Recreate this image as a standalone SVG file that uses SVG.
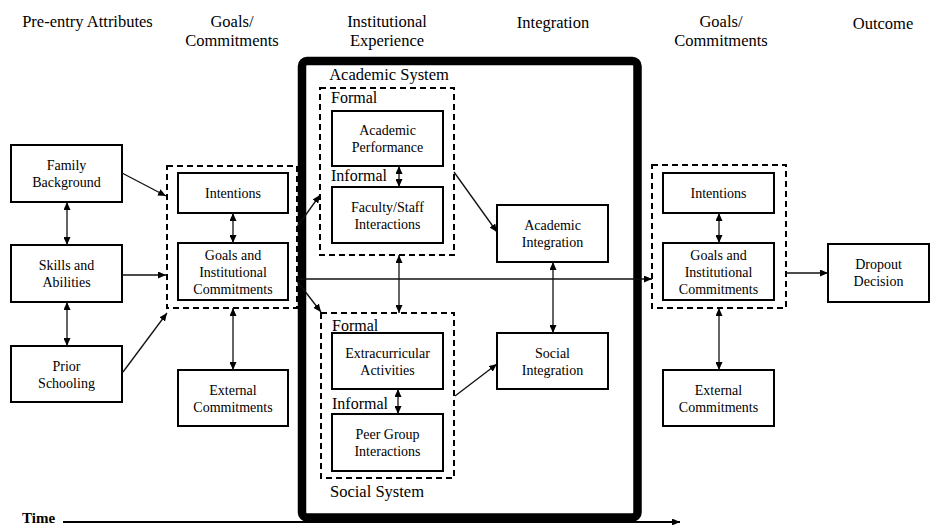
<svg xmlns="http://www.w3.org/2000/svg" width="931" height="525" viewBox="0 0 931 525" font-family="'Liberation Serif', 'DejaVu Serif', serif">
<style>
text{font-family:'Liberation Serif','DejaVu Serif',serif;fill:#000;text-anchor:middle}
.h{font-size:16.5px}
.b{font-size:14px}
.l{font-size:16px;text-anchor:start}
.box{fill:#fff;stroke:#000;stroke-width:2}
.dash{fill:none;stroke:#000;stroke-width:2;stroke-dasharray:6 4}
.c{fill:none;stroke:#111;stroke-width:1.3}
</style>
<defs>
<marker id="ah" markerUnits="userSpaceOnUse" markerWidth="8" markerHeight="7" refX="8" refY="3.5" orient="auto-start-reverse">
<path d="M0,0 L8,3.5 L0,7 z" fill="#000"/>
</marker>
</defs>
<rect width="931" height="525" fill="#fff"/>

<g id="headers">
<text class="h" x="87.5" y="27">Pre-entry Attributes</text>
<text class="h" x="232" y="26.5">Goals/</text>
<text class="h" x="232" y="46">Commitments</text>
<text class="h" x="387" y="26.5">Institutional</text>
<text class="h" x="387" y="46">Experience</text>
<text class="h" x="553" y="28">Integration</text>
<text class="h" x="721" y="26.5">Goals/</text>
<text class="h" x="721" y="46">Commitments</text>
<text class="h" x="883" y="28.5">Outcome</text>
</g>

<g id="institution">
<rect x="302" y="61" width="335.5" height="456.5" rx="5" fill="none" stroke="#000" stroke-width="8.5"/>
<text class="h" x="389" y="80">Academic System</text>
<text class="h" x="377" y="497">Social System</text>
</g>

<g id="academic-system">
<rect class="dash" x="320" y="88" width="134" height="167"/>
<text class="l" x="331" y="103">Formal</text>
<text class="l" x="331" y="181">Informal</text>
</g>
<g id="social-system">
<rect class="dash" x="321" y="313" width="133" height="165"/>
<text class="l" x="332" y="331">Formal</text>
<text class="l" x="332" y="409">Informal</text>
</g>
<g id="goals-left">
<rect class="dash" x="167" y="166" width="130" height="142"/>
</g>
<g id="goals-right">
<rect class="dash" x="652" y="165" width="134" height="143"/>
</g>

<g id="family-background">
<rect class="box" x="11" y="145" width="111" height="57"/>
<text class="b" x="66.5" y="170">Family</text>
<text class="b" x="66.5" y="187">Background</text>
</g>
<g id="skills-abilities">
<rect class="box" x="11" y="245" width="111" height="57"/>
<text class="b" x="66.5" y="270">Skills and</text>
<text class="b" x="66.5" y="287">Abilities</text>
</g>
<g id="prior-schooling">
<rect class="box" x="11" y="346" width="111" height="56"/>
<text class="b" x="66.5" y="370.5">Prior</text>
<text class="b" x="66.5" y="387.5">Schooling</text>
</g>

<g id="intentions-left">
<rect class="box" x="178" y="173" width="110" height="40"/>
<text class="b" x="233" y="198">Intentions</text>
</g>
<g id="goals-commitments-left">
<rect class="box" x="178" y="243" width="110" height="57"/>
<text class="b" x="233" y="259.5">Goals and</text>
<text class="b" x="233" y="276.5">Institutional</text>
<text class="b" x="233" y="293.5">Commitments</text>
</g>
<g id="external-left">
<rect class="box" x="178" y="370" width="110" height="56"/>
<text class="b" x="233" y="394.5">External</text>
<text class="b" x="233" y="411.5">Commitments</text>
</g>

<g id="academic-performance">
<rect class="box" x="332" y="111" width="111" height="55"/>
<text class="b" x="387.5" y="135">Academic</text>
<text class="b" x="387.5" y="152">Performance</text>
</g>
<g id="faculty-staff">
<rect class="box" x="332" y="187" width="111" height="56"/>
<text class="b" x="387.5" y="211.5">Faculty/Staff</text>
<text class="b" x="387.5" y="228.5">Interactions</text>
</g>
<g id="extracurricular">
<rect class="box" x="332" y="333" width="111" height="56"/>
<text class="b" x="387.5" y="357.5">Extracurricular</text>
<text class="b" x="387.5" y="374.5">Activities</text>
</g>
<g id="peer-group">
<rect class="box" x="332" y="414" width="111" height="57"/>
<text class="b" x="387.5" y="439">Peer Group</text>
<text class="b" x="387.5" y="456">Interactions</text>
</g>

<g id="academic-integration">
<rect class="box" x="497" y="205" width="111" height="57"/>
<text class="b" x="552.5" y="229.5">Academic</text>
<text class="b" x="552.5" y="246.5">Integration</text>
</g>
<g id="social-integration">
<rect class="box" x="497" y="333" width="111" height="56"/>
<text class="b" x="552.5" y="357.5">Social</text>
<text class="b" x="552.5" y="374.5">Integration</text>
</g>

<g id="intentions-right">
<rect class="box" x="663" y="173" width="111" height="40"/>
<text class="b" x="718.5" y="198">Intentions</text>
</g>
<g id="goals-commitments-right">
<rect class="box" x="663" y="243" width="111" height="57"/>
<text class="b" x="718.5" y="259.5">Goals and</text>
<text class="b" x="718.5" y="276.5">Institutional</text>
<text class="b" x="718.5" y="293.5">Commitments</text>
</g>
<g id="external-right">
<rect class="box" x="663" y="370" width="111" height="56"/>
<text class="b" x="718.5" y="394.5">External</text>
<text class="b" x="718.5" y="411.5">Commitments</text>
</g>
<g id="dropout-decision">
<rect class="box" x="828" y="244" width="101" height="58"/>
<text class="b" x="878.5" y="269">Dropout</text>
<text class="b" x="878.5" y="286">Decision</text>
</g>

<g id="connectors">
<line class="c" x1="122" y1="173" x2="166" y2="196" marker-end="url(#ah)"/>
<line class="c" x1="122" y1="275" x2="166" y2="275" marker-end="url(#ah)"/>
<line class="c" x1="123" y1="372" x2="167" y2="313" marker-end="url(#ah)"/>
<line class="c" x1="67" y1="202" x2="67" y2="245" marker-start="url(#ah)" marker-end="url(#ah)"/>
<line class="c" x1="67" y1="302" x2="67" y2="346" marker-start="url(#ah)" marker-end="url(#ah)"/>
<line class="c" x1="233" y1="213" x2="233" y2="243" marker-start="url(#ah)" marker-end="url(#ah)"/>
<line class="c" x1="233" y1="308" x2="233" y2="370" marker-start="url(#ah)" marker-end="url(#ah)"/>
<line class="c" x1="297" y1="227" x2="320" y2="195" marker-end="url(#ah)"/>
<line class="c" x1="297" y1="281" x2="321" y2="312" marker-end="url(#ah)"/>
<line class="c" x1="297" y1="279" x2="652" y2="279" marker-end="url(#ah)"/>
<line class="c" x1="399" y1="166" x2="399" y2="187" marker-start="url(#ah)" marker-end="url(#ah)"/>
<line class="c" x1="399" y1="255" x2="399" y2="313" marker-start="url(#ah)" marker-end="url(#ah)"/>
<line class="c" x1="398" y1="389" x2="398" y2="414" marker-start="url(#ah)" marker-end="url(#ah)"/>
<line class="c" x1="454" y1="172" x2="497" y2="232" marker-end="url(#ah)"/>
<line class="c" x1="455" y1="396" x2="497" y2="364" marker-end="url(#ah)"/>
<line class="c" x1="553" y1="262" x2="553" y2="333" marker-start="url(#ah)" marker-end="url(#ah)"/>
<line class="c" x1="719" y1="213" x2="719" y2="243" marker-start="url(#ah)" marker-end="url(#ah)"/>
<line class="c" x1="719" y1="308" x2="719" y2="370" marker-start="url(#ah)" marker-end="url(#ah)"/>
<line class="c" x1="786" y1="273" x2="828" y2="273" marker-end="url(#ah)"/>
<line x1="63" y1="522" x2="680" y2="522" stroke="#000" stroke-width="2" marker-end="url(#ah)"/>
</g>

<g id="time">
<text x="22" y="522.5" style="font-size:15px;font-weight:bold;text-anchor:start">Time</text>
</g>
</svg>
